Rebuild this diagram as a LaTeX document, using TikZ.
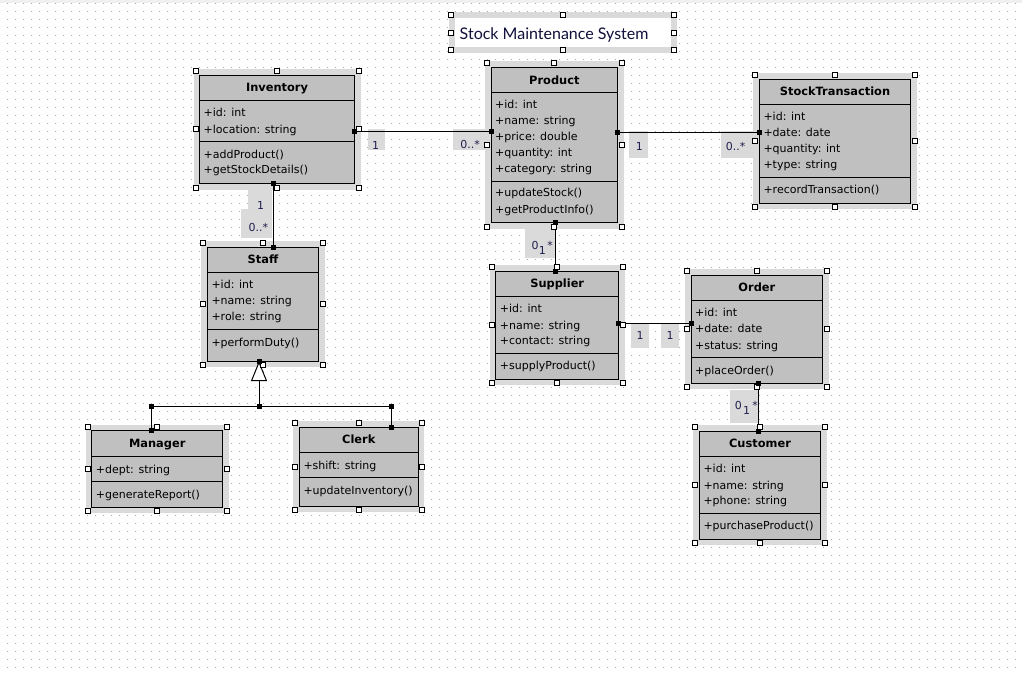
\documentclass[tikz,border=0pt]{standalone}
\usepackage{fontspec}
\setmainfont{DejaVu Sans}
\newfontfamily\titlefont{Lato}
\usetikzlibrary{arrows.meta,calc}
\definecolor{silverbox}{HTML}{C0C0C0}
\definecolor{bandc}{HTML}{DADADA}
\definecolor{gridc}{HTML}{A8A8A8}
\definecolor{labc}{HTML}{1F1F50}
\definecolor{titlec}{HTML}{10103A}
\definecolor{topstrip}{HTML}{EFEFEF}

\newcommand{\clsbox}[8]{%
  \fill[band] ({#2-6},{#3-6}) rectangle ({#4+6},{#5+6});
  \node[clsbody, minimum width={(#4)-(#2)}, minimum height={(#5)-(#3)}] (#1) at ({((#2)+(#4))/2},{((#3)+(#5))/2}) {};
  \draw[sepline] (#2,#6) -- (#4,#6);
  \draw[sepline] (#2,#7) -- (#4,#7);
  \node[clsname] (#1-title) at ({((#2)+(#4))/2},{((#3)+(#6))/2}) {#8};
}
\newcommand{\hsq}[2]{\draw[handle] ({#1-2.5},{#2-2.5}) rectangle ({#1+2.5},{#2+2.5});}
\newcommand{\hdls}[4]{%
  \hsq{#1-4}{#2-4}\hsq{(#1+#3)/2}{#2-4}\hsq{#3+4}{#2-4}%
  \hsq{#1-4}{(#2+#4)/2}\hsq{#3+4}{(#2+#4)/2}%
  \hsq{#1-4}{#4+4}\hsq{(#1+#3)/2}{#4+4}\hsq{#3+4}{#4+4}}
\newcommand{\esq}[1]{\fill[black] ([xshift=-2.5pt,yshift=-2.5pt]#1) rectangle ([xshift=2.5pt,yshift=2.5pt]#1);}

\begin{document}
\begin{tikzpicture}[x=1pt,y=-1pt,
  clsbody/.style={draw=black, line width=1pt, fill=silverbox, rectangle, inner sep=0pt, outer sep=0pt},
  sepline/.style={line width=1pt},
  band/.style={fill=bandc},
  txt/.style={font=\fontsize{11}{13}\selectfont, inner sep=0pt, text height=8pt, text depth=0pt, anchor=west},
  clsname/.style={font=\fontsize{11.4}{13}\selectfont\bfseries, inner sep=0pt, text height=8pt, text depth=0pt},
  lab/.style={font=\fontsize{11}{13}\selectfont, text=labc, inner sep=0pt, text height=8pt, text depth=0pt},
  conn/.style={line width=1pt},
  handle/.style={draw=black, fill=white, line width=0.8pt}]
\useasboundingbox (0,0) rectangle (1022,672);
\fill[white] (0,0) rectangle (1022,672);
\fill[topstrip] (0,0) rectangle (1022,2.5);
\foreach \j in {0,...,83}
  \draw[gridc, line width=1pt, dash pattern=on 1pt off 7pt] (7,{3.5+8*\j}) -- (1022,{3.5+8*\j});

% title box
\fill[band] (449,12.3) rectangle (677,53.3);
\fill[white] (455,18.3) rectangle (670.5,46.7);
\node[anchor=west, inner sep=0pt, text height=11.5pt, text depth=0pt, font=\titlefont\fontsize{16}{18}\selectfont, text=titlec] (title) at (459.5,33.3) {Stock Maintenance System};

% label shading
\fill[band] (368.3,129) rectangle (385,150);
\fill[band] (453.3,129) rectangle (486,150);
\fill[band] (629,130.7) rectangle (647.7,158.3);
\fill[band] (720.7,130.7) rectangle (756.7,158);
\fill[band] (248,188) rectangle (272,210);
\fill[band] (241,209) rectangle (272,238);
\fill[band] (525,228) rectangle (555,258);
\fill[band] (631,323) rectangle (649.3,348.3);
\fill[band] (661,323) rectangle (679.3,348.3);
\fill[band] (730,390) rectangle (759,423.3);

% classes
\clsbox{inv}{199.5}{75}{354.5}{183.5}{100.5}{141}{Inventory}
\node[txt] (inv-a1) at (203.5,112.7) {+id: int};
\node[txt] (inv-a2) at (203.5,129) {+location: string};
\node[txt] (inv-m1) at (203.5,154.3) {+addProduct()};
\node[txt] (inv-m2) at (203.5,169.3) {+getStockDetails()};

\clsbox{prod}{491}{67.3}{617.7}{222.7}{92.7}{181.7}{Product}
\node[txt] (prod-a1) at (495,104.7) {+id: int};
\node[txt] (prod-a2) at (495,120.3) {+name: string};
\node[txt] (prod-a3) at (495,136.7) {+price: double};
\node[txt] (prod-a4) at (495,152.7) {+quantity: int};
\node[txt] (prod-a5) at (495,168.7) {+category: string};
\node[txt] (prod-m1) at (495,192.7) {+updateStock()};
\node[txt] (prod-m2) at (495,209.3) {+getProductInfo()};

\clsbox{stx}{759.3}{79}{910.7}{203.3}{104.3}{177.3}{StockTransaction}
\node[txt] (stx-a1) at (763.3,116) {+id: int};
\node[txt] (stx-a2) at (763.3,132.7) {+date: date};
\node[txt] (stx-a3) at (763.3,148.7) {+quantity: int};
\node[txt] (stx-a4) at (763.3,164.7) {+type: string};
\node[txt] (stx-m1) at (763.3,189) {+recordTransaction()};

\clsbox{staff}{207.3}{247.3}{318.7}{361}{272.3}{329.3}{Staff}
\node[txt] (staff-a1) at (211.3,284) {+id: int};
\node[txt] (staff-a2) at (211.3,300.7) {+name: string};
\node[txt] (staff-a3) at (211.3,316.7) {+role: string};
\node[txt] (staff-m1) at (211.3,342.7) {+performDuty()};

\clsbox{man}{91.7}{430.7}{222.7}{507.3}{456}{481}{Manager}
\node[txt] (man-a1) at (95.7,469) {+dept: string};
\node[txt] (man-m1) at (95.7,494) {+generateReport()};

\clsbox{clerk}{299.3}{427.3}{418.3}{506}{452.3}{477.3}{Clerk}
\node[txt] (clerk-a1) at (303.3,465) {+shift: string};
\node[txt] (clerk-m1) at (303.3,490) {+updateInventory()};

\clsbox{sup}{495.7}{271}{618.7}{379.3}{296.3}{353.3}{Supplier}
\node[txt] (sup-a1) at (499.7,308.7) {+id: int};
\node[txt] (sup-a2) at (499.7,325) {+name: string};
\node[txt] (sup-a3) at (499.7,340.7) {+contact: string};
\node[txt] (sup-m1) at (499.7,365.7) {+supplyProduct()};

\clsbox{ord}{691}{275}{822.7}{383.3}{300}{357}{Order}
\node[txt] (ord-a1) at (695,312) {+id: int};
\node[txt] (ord-a2) at (695,328.7) {+date: date};
\node[txt] (ord-a3) at (695,345) {+status: string};
\node[txt] (ord-m1) at (695,370) {+placeOrder()};

\clsbox{cust}{699.3}{431}{820.7}{539.3}{456.3}{513.3}{Customer}
\node[txt] (cust-a1) at (703.3,468.7) {+id: int};
\node[txt] (cust-a2) at (703.3,485) {+name: string};
\node[txt] (cust-a3) at (703.3,500.7) {+phone: string};
\node[txt] (cust-m1) at (703.3,525.7) {+purchaseProduct()};

% connectors
\coordinate (c1a) at ([yshift=-2.25pt]inv.east);
\coordinate (c1b) at (c1a -| prod.west);
\draw[conn] (c1a) -- (c1b);
\coordinate (c2a) at ([yshift=12.3pt]prod.east);
\coordinate (c2b) at (c2a -| stx.west);
\draw[conn] (c2a) -- (c2b);
\coordinate (c3a) at ([xshift=-3.7pt]inv.south);
\coordinate (c3b) at (c3a |- staff.north);
\draw[conn] (c3a) -- (c3b);
\coordinate (c5a) at ([xshift=0.65pt]prod.south);
\coordinate (c5b) at (c5a |- sup.north);
\draw[conn] (c5a) -- (c5b);
\coordinate (c6a) at ([yshift=1.85pt]sup.east);
\coordinate (c6b) at (c6a -| ord.west);
\draw[conn] (c6a) -- (c6b);
\coordinate (c7a) at ([xshift=1.15pt]ord.south);
\coordinate (c7b) at (c7a |- cust.north);
\draw[conn] (c7a) -- (c7b);

% generalization
\coordinate (gs) at ([xshift=-4pt]staff.south);
\coordinate (gj) at ([yshift=-45.7pt]gs);
\coordinate (gm) at ([xshift=-6.2pt]man.north);
\coordinate (gc) at ([xshift=32.2pt]clerk.north);
\coordinate (gmj) at (gm |- gj);
\coordinate (gcj) at (gc |- gj);
\draw[conn,-{Triangle[length=20pt,width=16pt,fill=white]}] (gj) -- (gs);
\draw[conn] (gm) -- (gmj) -- (gcj) -- (gc);

% handles
\hdls{199.5}{75}{354.5}{183.5}
\hdls{491}{67.3}{617.7}{222.7}
\hdls{759.3}{79}{910.7}{203.3}
\hdls{207.3}{247.3}{318.7}{361}
\hdls{91.7}{430.7}{222.7}{507.3}
\hdls{299.3}{427.3}{418.3}{506}
\hdls{495.7}{271}{618.7}{379.3}
\hdls{691}{275}{822.7}{383.3}
\hdls{699.3}{431}{820.7}{539.3}
\hdls{455}{19.3}{670.3}{46}

% end squares
\esq{c1a}\esq{c1b}\esq{c2a}\esq{c2b}\esq{c3a}\esq{c3b}
\esq{c5a}\esq{c5b}\esq{c6a}\esq{c6b}\esq{c7a}\esq{c7b}
\esq{gs}\esq{gj}\esq{gm}\esq{gmj}\esq{gc}\esq{gcj}

% multiplicity labels
\node[lab] (l1a) at (375.5,145) {1};
\node[lab] (l1b) at (470,144.3) {0..*};
\node[lab] (l2a) at (639.3,146) {1};
\node[lab] (l2b) at (735.7,146) {0..*};
\node[lab] (l3a) at (260.7,205.3) {1};
\node[lab] (l3b) at (258.3,227.3) {0..*};
\node[lab] (l5z) at (535,245) {0};
\node[lab] (l5o) at (542.3,250.5) {1};
\node[lab] (l5s) at (550,245.2) {*};
\node[lab] (l6a) at (640,335) {1};
\node[lab] (l6b) at (670,335) {1};
\node[lab] (l7z) at (738.3,405) {0};
\node[lab] (l7o) at (746.7,410.7) {1};
\node[lab] (l7s) at (755,405.2) {*};
\end{tikzpicture}
\end{document}
